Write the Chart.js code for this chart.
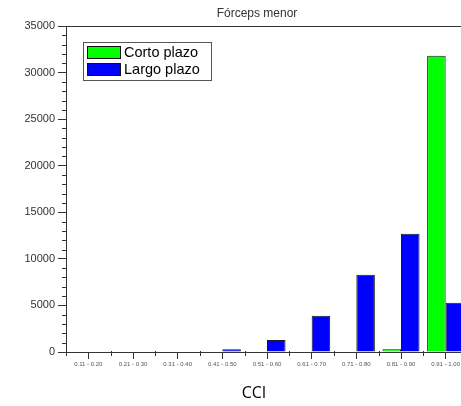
<!DOCTYPE html>
<html>
<head>
<meta charset="utf-8">
<script src="https://cdn.jsdelivr.net/npm/chart.js@4/dist/chart.umd.min.js"></script>
<style>
html,body{margin:0;padding:0;background:#fff;overflow:hidden;width:461px;height:406px;}
canvas{display:block;}
</style>
</head>
<body>
<canvas id="c" width="480" height="406"></canvas>
<script>
const chartTitle = 'Fórceps menor';
const xAxisTitle = 'CCI';
const categories = ['0.11 - 0.20','0.21 - 0.30','0.31 - 0.40','0.41 - 0.50','0.51 - 0.60','0.61 - 0.70','0.71 - 0.80','0.81 - 0.90','0.91 - 1.00'];
const seriesNames = ['Corto plazo','Largo plazo'];
const cortoPlazo = [0,0,0,0,0,0,0,300,31800];
const largoPlazo = [0,0,0,300,1300,3900,8300,12700,5300];
const yTicks = [0,5000,10000,15000,20000,25000,30000,35000];

const axisColor = '#333333';
const textColor = '#333333';

const decor = {
  id: 'decor',
  afterDraw(chart) {
    const ctx = chart.ctx;
    const a = chart.chartArea;
    const xs = chart.scales.x, ys = chart.scales.y;
    ctx.save();
    ctx.strokeStyle = axisColor;
    ctx.lineWidth = 1;
    // top border
    ctx.beginPath();
    ctx.moveTo(a.left, Math.round(a.top) + 0.5);
    ctx.lineTo(a.right, Math.round(a.top) + 0.5);
    ctx.stroke();
    // y minor ticks every 1000
    ctx.beginPath();
    for (let v = 0; v <= yTicks[yTicks.length - 1]; v += 1000) {
      if (v % 5000 === 0) continue;
      const y = Math.round(ys.getPixelForValue(v)) + 0.5;
      ctx.moveTo(a.left - 4, y);
      ctx.lineTo(a.left + 1, y);
    }
    ctx.stroke();
    // x minor ticks at category boundaries
    const step = xs.getPixelForValue(1) - xs.getPixelForValue(0);
    ctx.beginPath();
    for (let i = 0; i <= categories.length; i++) {
      const x = Math.round(xs.getPixelForValue(0) + (i - 0.5) * step) + 0.5;
      ctx.moveTo(x, a.bottom - 1);
      ctx.lineTo(x, a.bottom + 4);
    }
    ctx.stroke();
    // title
    ctx.fillStyle = textColor;
    ctx.font = '12px "Liberation Sans", Arial, sans-serif';
    ctx.textAlign = 'center';
    ctx.textBaseline = 'middle';
    ctx.fillText(chartTitle, 257, 14);
    // x axis title
    ctx.fillStyle = '#000';
    ctx.font = '16px "Open Sans", sans-serif';
    ctx.fillText(xAxisTitle, 254, 393);
    // legend
    const lx = 83, ly = 42, lw = 128, lh = 38;
    ctx.fillStyle = '#fff';
    ctx.fillRect(lx, ly, lw, lh);
    ctx.strokeStyle = '#555';
    ctx.strokeRect(lx + 0.5, ly + 0.5, lw, lh);
    ctx.font = '14.5px "Liberation Sans", Arial, sans-serif';
    ctx.textAlign = 'left';
    chart.data.datasets.forEach((ds, i) => {
      const sy = 46 + i * 17;
      ctx.fillStyle = ds.backgroundColor;
      ctx.fillRect(87, sy, 34, 13);
      ctx.strokeStyle = '#111';
      ctx.strokeRect(87.5, sy + 0.5, 33, 12);
      ctx.fillStyle = '#000';
      ctx.fillText(ds.label, 124, sy + 7);
    });
    ctx.restore();
  }
};

new Chart(document.getElementById('c'), {
  type: 'bar',
  data: {
    labels: categories,
    datasets: [
      { label: seriesNames[0], data: cortoPlazo, backgroundColor: '#00ff00', borderColor: '#1a1a1a',
        borderWidth: c => (c.raw === 0 ? 0 : 1), borderSkipped: 'start' },
      { label: seriesNames[1], data: largoPlazo, backgroundColor: '#0000ff', borderColor: '#1a1a1a',
        borderWidth: c => (c.raw === 0 ? 0 : 1), borderSkipped: 'start' }
    ]
  },
  options: {
    responsive: false,
    animation: false,
    events: [],
    layout: { padding: { top: 26, right: 12, left: 0, bottom: 0 } },
    datasets: { bar: { categoryPercentage: 0.83, barPercentage: 1.0 } },
    plugins: { legend: { display: false }, title: { display: false }, tooltip: { enabled: false } },
    scales: {
      x: {
        offset: true,
        grid: { offset: false, drawOnChartArea: false, drawTicks: true, tickLength: 7, color: axisColor },
        border: { display: true, color: axisColor },
        ticks: { autoSkip: false, maxRotation: 0, minRotation: 0, padding: 2, color: '#555',
                 font: { size: 6, family: '"Liberation Sans", Arial, sans-serif' } },
        afterFit: s => { s.height = 54; }
      },
      y: {
        min: 0, max: 35000,
        afterBuildTicks: s => { s.ticks = yTicks.map(v => ({ value: v })); },
        grid: { drawOnChartArea: false, drawTicks: true, tickLength: 8, color: axisColor },
        border: { display: true, color: axisColor },
        ticks: { padding: 3, color: textColor, callback: v => String(v),
                 font: { size: 11, family: '"Liberation Sans", Arial, sans-serif' } },
        afterFit: s => { s.width = 66; }
      }
    }
  },
  plugins: [decor]
});
</script>
</body>
</html>
